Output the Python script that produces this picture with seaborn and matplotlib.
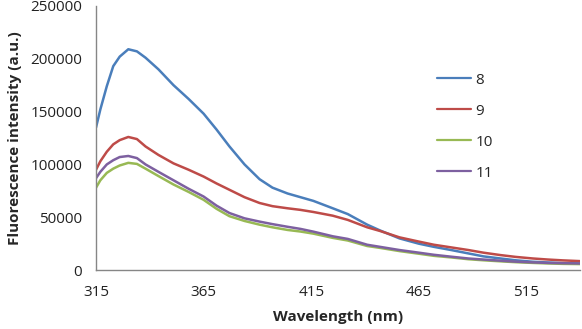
import matplotlib
matplotlib.use("Agg")
import matplotlib.pyplot as plt
import seaborn as sns
import pandas as pd

wavelength = [315, 317, 320, 323, 326, 330, 334, 338, 344, 351, 358, 365, 371, 377, 384,
              391, 397, 404, 410, 416, 425, 432, 441, 447, 456, 465, 472, 480, 488, 495,
              503, 510, 518, 525, 532, 540]
s8 = [135000, 152000, 174000, 193000, 202000, 209000, 207000, 201000, 190000, 175000,
      162000, 148000, 133000, 117000, 100000, 86000, 78000, 72500, 69000, 65500,
      58500, 53000, 43000, 37500, 30000, 25000, 22000, 19000, 15800, 13000,
      11000, 9300, 7900, 7200, 6600, 6300]
s9 = [95000, 103000, 112000, 119000, 123000, 126000, 124000, 117000, 109000, 101000,
      95000, 88500, 82000, 76000, 69000, 63500, 60500, 58500, 57000, 55000,
      51500, 47500, 40500, 37000, 31000, 27000, 24000, 21500, 19000, 16500,
      14200, 12500, 11000, 10000, 9200, 8500]
s10 = [78000, 85000, 92000, 96000, 99000, 101500, 100500, 96000, 89000, 81000,
       74000, 66500, 58000, 51000, 46500, 43000, 40500, 38000, 36500, 34500,
       30500, 28000, 22800, 21000, 18000, 15500, 13500, 12000, 10300, 9300,
       8300, 7500, 6800, 6300, 5900, 5700]
s11 = [87000, 93000, 100000, 104000, 107000, 108000, 106000, 100000, 93000, 85000,
       77000, 69600, 61000, 54000, 49000, 45900, 43500, 41000, 39000, 36400,
       32000, 29500, 24000, 22000, 19000, 16500, 14500, 12700, 11000, 10000,
       8900, 8000, 7300, 6800, 6500, 6300]
series_names = ["8", "9", "10", "11"]
colors = ["#4A7EBB", "#BE4B48", "#98B954", "#7D60A0"]
x_ticks = [315, 365, 415, 465, 515]
y_ticks = [0, 50000, 100000, 150000, 200000, 250000]

rows = []
for name, vals in zip(series_names, [s8, s9, s10, s11]):
    for w, v in zip(wavelength, vals):
        rows.append({"Wavelength": w, "Intensity": v, "Series": name})
df = pd.DataFrame(rows)

sns.set_style("white")
plt.rcParams["font.family"] = ["Open Sans", "DejaVu Sans"]

fig = plt.figure(figsize=(5.82, 3.29), dpi=100)
ax = fig.add_axes([0.165, 0.179, 0.832, 0.803])
sns.lineplot(data=df, x="Wavelength", y="Intensity", hue="Series",
             hue_order=series_names, palette=colors, linewidth=1.8, ax=ax)

ax.set_xlim(315, 540)
ax.set_ylim(0, 250000)
ax.set_xticks(x_ticks)
ax.set_yticks(y_ticks)
ax.set_xticklabels([str(t) for t in x_ticks], fontsize=11)
ax.set_yticklabels([str(t) for t in y_ticks], fontsize=11)
ax.set_xlabel("Wavelength (nm)", fontsize=11, fontweight="bold", labelpad=7)
ax.set_ylabel("Fluorescence intensity (a.u.)", fontsize=11, fontweight="bold", labelpad=6)
for s in ["top", "right"]:
    ax.spines[s].set_visible(False)
for s in ["left", "bottom"]:
    ax.spines[s].set_color("#868686")
    ax.spines[s].set_linewidth(1)
ax.tick_params(axis="both", direction="out", length=5, color="#868686", width=1,
               labelcolor="#222222")
ax.tick_params(axis="x", pad=6)
ax.tick_params(axis="y", pad=5)

leg = ax.legend(loc="upper left", bbox_to_anchor=(0.676, 0.80), frameon=False,
                fontsize=11, handlelength=2.2, labelspacing=1.05, handletextpad=0.3)
for line in leg.get_lines():
    line.set_linewidth(1.6)

fig.savefig("out.png", dpi=100)
